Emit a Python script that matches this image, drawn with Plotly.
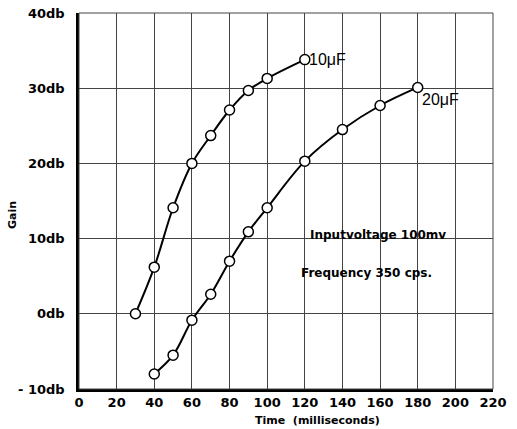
import plotly.graph_objects as go

time_10uF = [30, 40, 50, 60, 70, 80, 90, 100, 120]
gain_10uF = [0.0, 6.2, 14.1, 20.0, 23.7, 27.1, 29.7, 31.3, 33.8]

time_20uF = [40, 50, 60, 70, 80, 90, 100, 120, 140, 160, 180]
gain_20uF = [-8.0, -5.5, -0.85, 2.6, 7.0, 10.9, 14.1, 20.3, 24.5, 27.7, 30.1]

x_ticks = list(range(0, 221, 20))
y_ticks = [-10, 0, 10, 20, 30, 40]
y_tick_labels = ["- 10db", "0db", "10db", "20db", "30db", "40db"]

FONT = "DejaVu Sans"
FONT2 = "Liberation Sans"

fig = go.Figure()
marker = dict(size=10, color="white", line=dict(color="black", width=1.5))
fig.add_trace(go.Scatter(x=time_10uF, y=gain_10uF, mode="lines+markers",
                         line=dict(color="black", width=2, shape="spline"),
                         marker=marker, showlegend=False))
fig.add_trace(go.Scatter(x=time_20uF, y=gain_20uF, mode="lines+markers",
                         line=dict(color="black", width=2, shape="spline"),
                         marker=marker, showlegend=False))

annotations = [
    dict(x=time_10uF[-1], y=gain_10uF[-1], text="10\u03bcF", xanchor="left", yanchor="middle",
         xshift=2, showarrow=False, font=dict(size=16, family=FONT2, color="black")),
    dict(x=time_20uF[-1], y=gain_20uF[-1], text="20\u03bcF", xanchor="left", yanchor="top",
         xshift=2, yshift=-2, showarrow=False, font=dict(size=16, family=FONT2, color="black")),
    dict(x=159, y=10.5, text="<b>Inputvoltage 100mv</b>", showarrow=False,
         font=dict(size=12, family=FONT, color="black")),
    dict(x=153, y=5.4, text="<b>Frequency 350 cps.</b>", showarrow=False,
         font=dict(size=12, family=FONT, color="black")),
    dict(xref="paper", yref="paper", x=(317 - 79) / 414, y=-31 / 376, text="<b>Time  (milliseconds)</b>",
         showarrow=False, xanchor="center", yanchor="middle",
         font=dict(size=11, family=FONT, color="black")),
    dict(xref="paper", yref="paper", x=(12 - 79) / 414, y=(389 - 215) / 376, text="<b>Gain</b>",
         showarrow=False, textangle=-90, xanchor="center", yanchor="middle",
         font=dict(size=11, family=FONT, color="black")),
]

fig.update_layout(
    width=517, height=429,
    margin=dict(l=79, r=24, t=13, b=40, autoexpand=False),
    paper_bgcolor="white", plot_bgcolor="white",
    font=dict(family=FONT, color="black"),
    annotations=annotations,
    xaxis=dict(range=[0, 220], tickvals=x_ticks, ticktext=["<b>%d</b>" % v for v in x_ticks],
               showgrid=True, gridcolor="#444", gridwidth=1, automargin=False,
               showline=True, linecolor="black", linewidth=2.5, zeroline=False,
               ticks="", tickfont=dict(size=13, family=FONT)),
    yaxis=dict(range=[-10, 40], tickvals=y_ticks, ticktext=["<b>%s</b>" % t for t in y_tick_labels],
               showgrid=True, gridcolor="#444", gridwidth=1, automargin=False,
               showline=True, linecolor="black", linewidth=2.5, zeroline=False,
               ticks="", ticklabelstandoff=9, tickfont=dict(size=13, family=FONT)),
)
fig.add_shape(type="rect", xref="paper", yref="paper", x0=0, y0=0, x1=1, y1=1,
              line=dict(color="#444", width=1))

fig.write_html("out.html", config={"displayModeBar": False},
               post_script="document.body.style.margin='0px';document.body.style.overflow='hidden';")
